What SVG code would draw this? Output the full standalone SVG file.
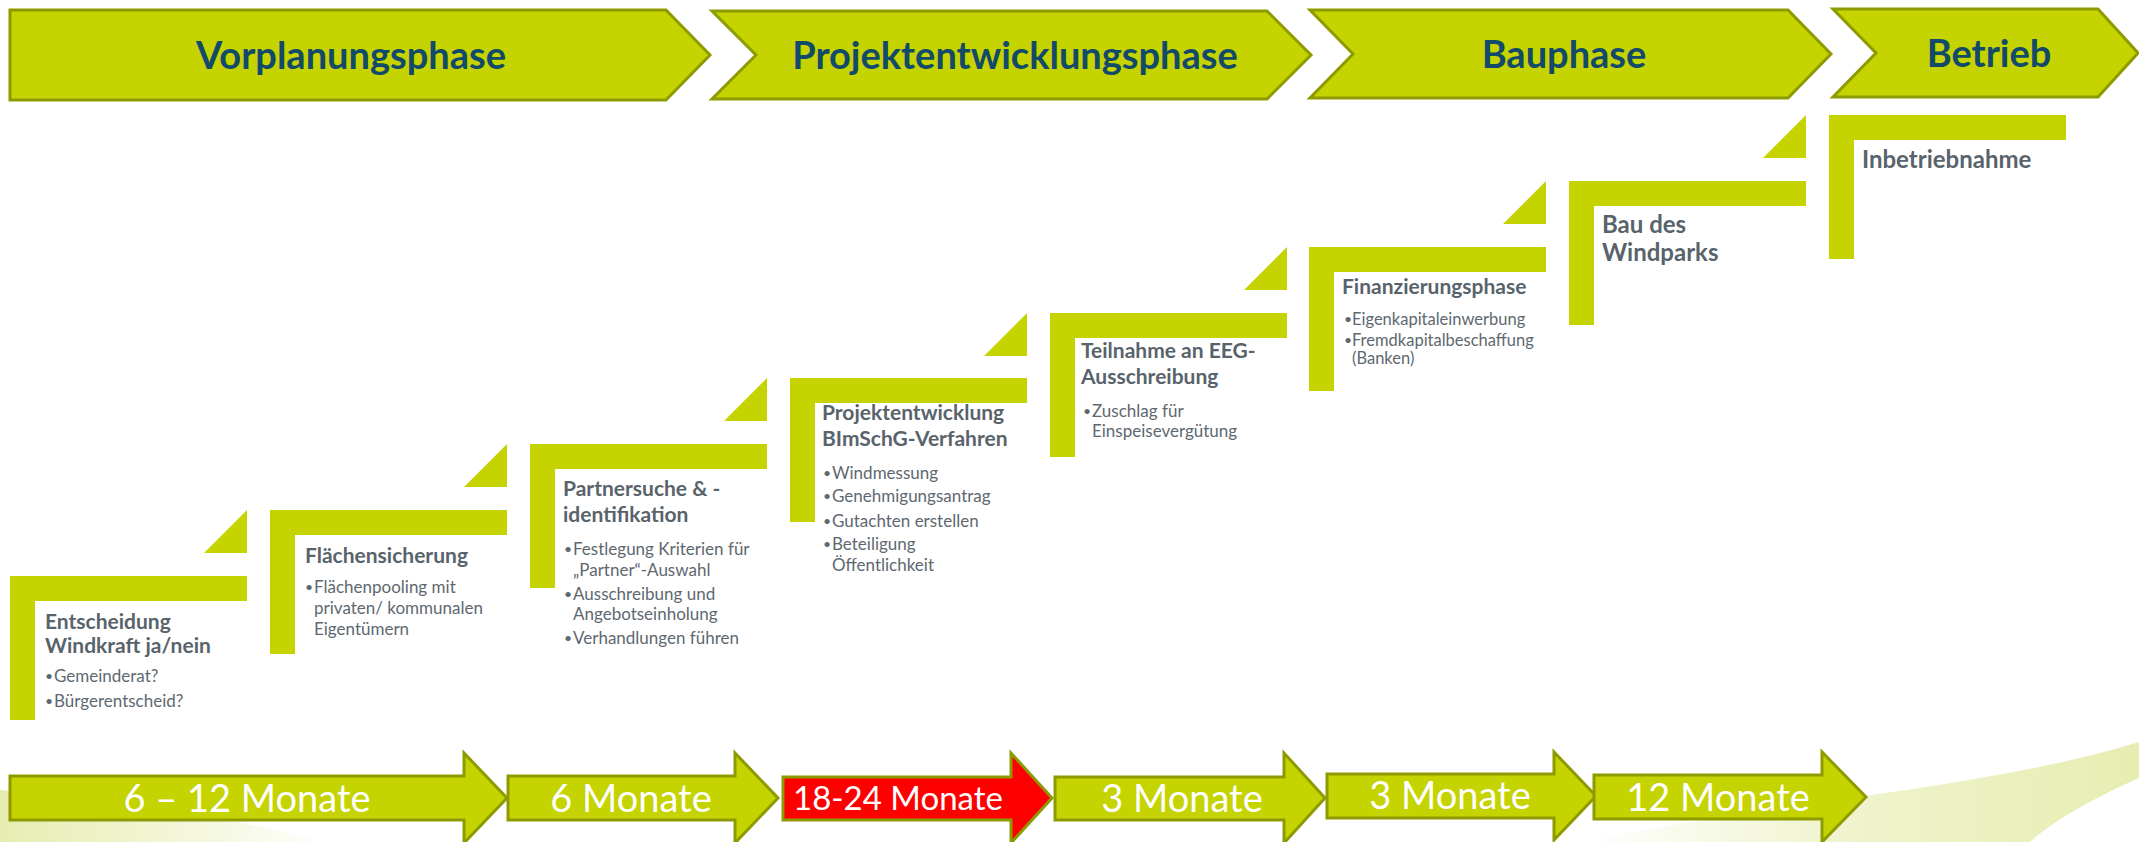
<svg xmlns="http://www.w3.org/2000/svg" width="2139" height="842" viewBox="0 0 2139 842">
<defs>
<linearGradient id="swR" x1="0" y1="0" x2="1" y2="0">
<stop offset="0" stop-color="#E4EBA8" stop-opacity="0"/>
<stop offset="0.45" stop-color="#E4EBA8" stop-opacity="0.55"/>
<stop offset="1" stop-color="#E4EBA8" stop-opacity="0.9"/>
</linearGradient>
<linearGradient id="swL" x1="0" y1="0" x2="1" y2="0">
<stop offset="0" stop-color="#E4EBA8" stop-opacity="0.9"/>
<stop offset="0.6" stop-color="#E4EBA8" stop-opacity="0.4"/>
<stop offset="1" stop-color="#E4EBA8" stop-opacity="0"/>
</linearGradient>
<style>
.ph{fill:#C5D300;stroke:#8E9B00;stroke-width:3;stroke-linejoin:miter}
.pht{font-family:Lato,'Liberation Sans',sans-serif;font-weight:700;font-size:38px;fill:#124A69;text-anchor:middle}
.st{fill:#C5D300}
.tt{font-family:Lato,'Liberation Sans',sans-serif;font-weight:700;font-size:21px;fill:#58636B}
.tt2{font-family:Lato,'Liberation Sans',sans-serif;font-weight:700;font-size:24px;fill:#58636B}
.bt{font-family:Lato,'Liberation Sans',sans-serif;font-weight:400;font-size:17px;fill:#5E6870}
.bs{font-family:Lato,'Liberation Sans',sans-serif;font-weight:400;font-size:16.5px;fill:#5E6870}
.bl{font-family:Lato,'Liberation Sans',sans-serif;font-weight:400;font-size:14px;fill:#5E6870}
.du{fill:#C5D300;stroke:#8E9B00;stroke-width:3;stroke-linejoin:miter}
.red{fill:#FF0000}
.dt{font-family:Lato,'Liberation Sans',sans-serif;font-weight:400;font-size:38px;fill:#FFFFFF;text-anchor:middle}
.dts{font-family:Lato,'Liberation Sans',sans-serif;font-weight:400;font-size:33px;fill:#FFFFFF;text-anchor:middle}
</style>
</defs>
<rect width="2139" height="842" fill="#FFFFFF"/>
<g id="background">
<path d="M0,790 C90,796 210,814 330,842 L0,842 Z" fill="url(#swL)"/>
<path d="M1580,842 C1790,800 1990,788 2139,742 L2139,778 C2090,800 2055,820 2030,842 Z" fill="url(#swR)"/>
</g>
<g id="phase-vorplanung">
<polygon class="ph" points="10,10 666,10 710,55 666,100 10,100"/>
<text class="pht" x="351" y="69">Vorplanungsphase</text>
</g>
<g id="phase-projektentwicklung">
<polygon class="ph" points="712,11 1267,11 1311,55 1267,99 712,99 756,55"/>
<text class="pht" x="1015" y="69">Projektentwicklungsphase</text>
</g>
<g id="phase-bau">
<polygon class="ph" points="1310,10 1788,10 1831,54 1788,98 1310,98 1353,54"/>
<text class="pht" x="1564" y="68">Bauphase</text>
</g>
<g id="phase-betrieb">
<polygon class="ph" points="1833,9 2098,9 2138,53 2098,97 1833,97 1876,53"/>
<text class="pht" x="1989" y="67">Betrieb</text>
</g>
<g id="step1">
<path class="st" d="M10,576 h237 v25 h-212 v119 h-25 Z"/>
<polygon class="st" points="204,553 247,553 247,510"/>
<text class="tt" x="45" y="629">Entscheidung</text>
<text class="tt" x="45" y="653">Windkraft ja/nein</text>
<text class="bl" x="45" y="681">•</text><text class="bt" x="54" y="682">Gemeinderat?</text>
<text class="bl" x="45" y="706">•</text><text class="bt" x="54" y="707">Bürgerentscheid?</text>
</g>
<g id="step2">
<path class="st" d="M270,510 h237 v25 h-212 v119 h-25 Z"/>
<polygon class="st" points="464,487 507,487 507,444"/>
<text class="tt" x="305" y="563">Flächensicherung</text>
<text class="bl" x="305" y="592">•</text><text class="bt" x="314" y="593">Flächenpooling mit</text>
<text class="bt" x="314" y="614">privaten/ kommunalen</text>
<text class="bt" x="314" y="635">Eigentümern</text>
</g>
<g id="step3">
<path class="st" d="M530,444 h237 v25 h-212 v119 h-25 Z"/>
<polygon class="st" points="724,421 767,421 767,378"/>
<text class="tt" x="563" y="496">Partnersuche &amp; -</text>
<text class="tt" x="563" y="522">identifikation</text>
<text class="bl" x="564" y="554">•</text><text class="bt" x="573" y="555">Festlegung Kriterien für</text>
<text class="bt" x="573" y="576">„Partner“-Auswahl</text>
<text class="bl" x="564" y="599">•</text><text class="bt" x="573" y="600">Ausschreibung und</text>
<text class="bt" x="573" y="620">Angebotseinholung</text>
<text class="bl" x="564" y="643">•</text><text class="bt" x="573" y="644">Verhandlungen führen</text>
</g>
<g id="step4">
<path class="st" d="M790,378 h237 v25 h-212 v119 h-25 Z"/>
<polygon class="st" points="984,356 1027,356 1027,313"/>
<text class="tt" x="822" y="420">Projektentwicklung</text>
<text class="tt" x="822" y="446">BImSchG-Verfahren</text>
<text class="bl" x="823" y="478">•</text><text class="bt" x="832" y="479">Windmessung</text>
<text class="bl" x="823" y="501">•</text><text class="bt" x="832" y="502">Genehmigungsantrag</text>
<text class="bl" x="823" y="526">•</text><text class="bt" x="832" y="527">Gutachten erstellen</text>
<text class="bl" x="823" y="549">•</text><text class="bt" x="832" y="550">Beteiligung</text>
<text class="bt" x="832" y="571">Öffentlichkeit</text>
</g>
<g id="step5">
<path class="st" d="M1050,313 h237 v25 h-212 v119 h-25 Z"/>
<polygon class="st" points="1244,290 1287,290 1287,247"/>
<text class="tt" x="1081" y="358">Teilnahme an EEG-</text>
<text class="tt" x="1081" y="384">Ausschreibung</text>
<text class="bl" x="1083" y="416">•</text><text class="bt" x="1092" y="417">Zuschlag für</text>
<text class="bt" x="1092" y="437">Einspeisevergütung</text>
</g>
<g id="step6">
<path class="st" d="M1309,247 h237 v25 h-212 v119 h-25 Z"/>
<polygon class="st" points="1503,224 1546,224 1546,181"/>
<text class="tt" x="1342" y="294">Finanzierungsphase</text>
<text class="bl" x="1344" y="324">•</text><text class="bs" x="1352" y="325">Eigenkapitaleinwerbung</text>
<text class="bl" x="1344" y="345">•</text><text class="bs" x="1352" y="346">Fremdkapitalbeschaffung</text>
<text class="bs" x="1352" y="364">(Banken)</text>
</g>
<g id="step7">
<path class="st" d="M1569,181 h237 v25 h-212 v119 h-25 Z"/>
<polygon class="st" points="1763,158 1806,158 1806,115"/>
<text class="tt2" x="1602" y="233">Bau des</text>
<text class="tt2" x="1602" y="261">Windparks</text>
</g>
<g id="step8">
<path class="st" d="M1829,115 h237 v25 h-212 v119 h-25 Z"/>
<text class="tt2" x="1862" y="168">Inbetriebnahme</text>
</g>
<g id="duration1">
<polygon class="du" points="10,776 464,776 464,753 507,798 464,843 464,820 10,820"/>
<text class="dt" x="247" y="812">6 – 12 Monate</text>
</g>
<g id="duration2">
<polygon class="du" points="508,776 735,776 735,753 778,798 735,843 735,820 508,820"/>
<text class="dt" x="631" y="812">6 Monate</text>
</g>
<g id="duration3">
<polygon class="du red" points="783,777 1011,777 1011,753 1052,798 1011,843 1011,820 783,820"/>
<text class="dts" x="898" y="810">18-24 Monate</text>
</g>
<g id="duration4">
<polygon class="du" points="1055,777 1284,777 1284,753 1325,798 1284,843 1284,820 1055,820"/>
<text class="dt" x="1182" y="812">3 Monate</text>
</g>
<g id="duration5">
<polygon class="du" points="1327,774 1554,774 1554,752 1596,796 1554,840 1554,818 1327,818"/>
<text class="dt" x="1450" y="809">3 Monate</text>
</g>
<g id="duration6">
<polygon class="du" points="1594,775 1822,775 1822,752 1866,797 1822,842 1822,819 1594,819"/>
<text class="dt" x="1718" y="811">12 Monate</text>
</g>
<g id="connectors"></g>
</svg>
